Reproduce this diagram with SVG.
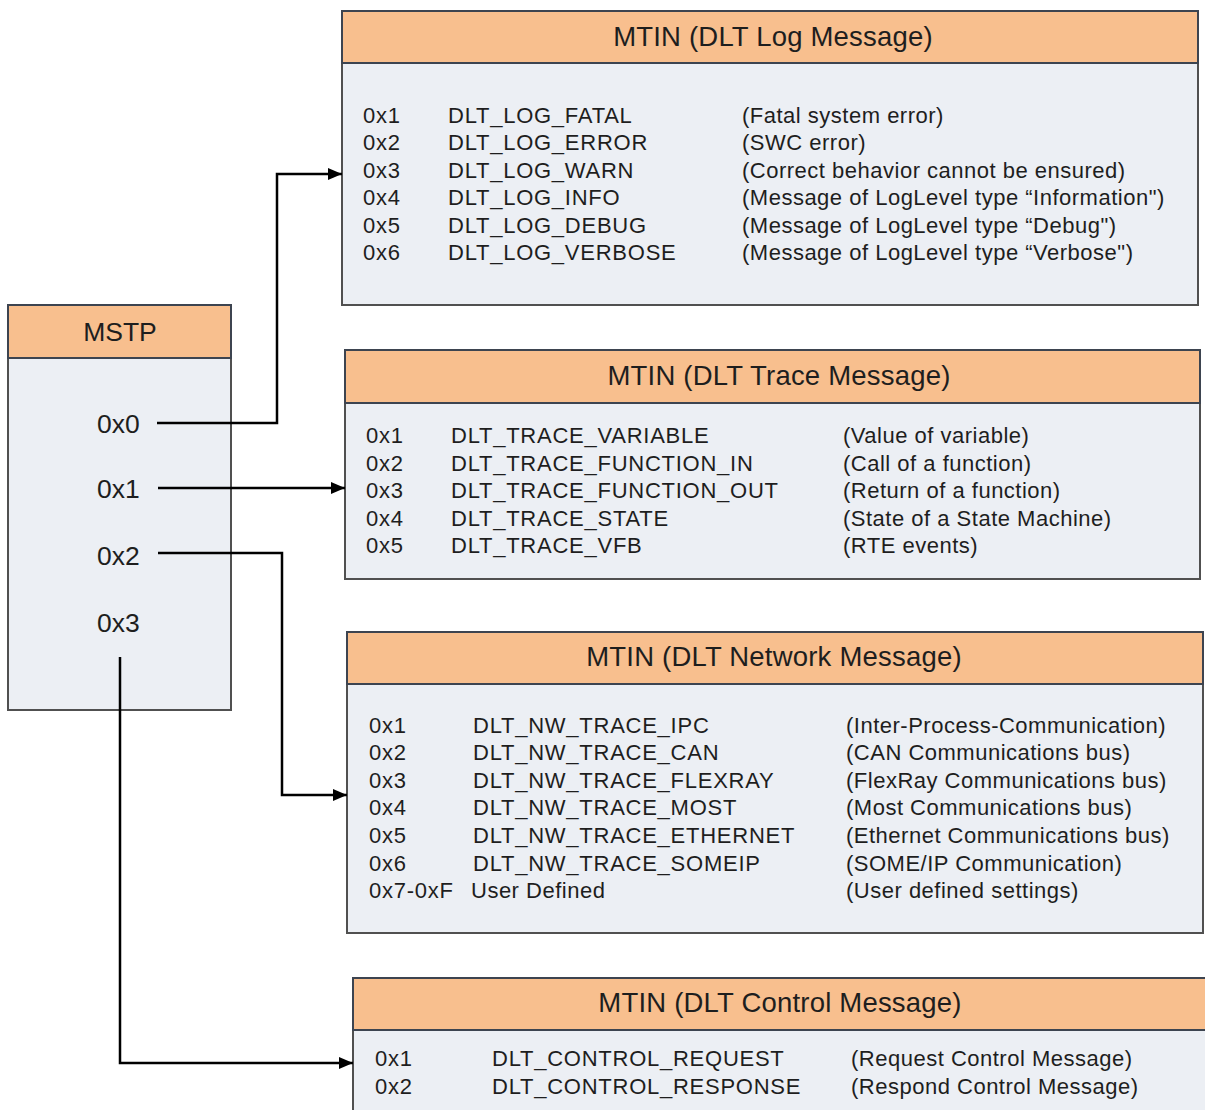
<svg xmlns="http://www.w3.org/2000/svg" width="1205" height="1110" viewBox="0 0 1205 1110">
<style>
.hdr{fill:#F8BF8E;stroke:#3d4450;stroke-width:2}
.body{fill:#ECEFF4;stroke:#505050;stroke-width:2}
.t{font-family:"Liberation Sans",Arial,sans-serif;fill:#1e1e1e}
.title{font-size:27.5px;letter-spacing:0.2px;text-anchor:middle}
.lbl{font-size:26.5px}
.row{font-size:22px;letter-spacing:0.75px}
.row .d{letter-spacing:0.5px}
.conn{fill:none;stroke:#000;stroke-width:2.5}
</style>
<defs>
<marker id="ah" viewBox="0 0 14 12" refX="14" refY="6" markerWidth="14" markerHeight="12" markerUnits="userSpaceOnUse" orient="auto">
<path d="M0,0 L14,6 L0,12 z" fill="#000"/>
</marker>
</defs>
<rect width="1205" height="1110" fill="#fff"/>

<g id="mstp">
<rect class="body" x="8" y="305" width="223" height="405"/>
<rect class="hdr" x="8" y="305" width="223" height="53"/>
<text class="t lbl" x="120" y="341" text-anchor="middle">MSTP</text>
<text class="t lbl" x="97" y="433">0x0</text>
<text class="t lbl" x="97" y="498">0x1</text>
<text class="t lbl" x="97" y="565">0x2</text>
<text class="t lbl" x="97" y="632">0x3</text>
</g>

<g id="log">
<rect class="body" x="342" y="11" width="856" height="294"/>
<rect class="hdr" x="342" y="11" width="856" height="52"/>
<text class="t title" x="773" y="46">MTIN (DLT Log Message)</text>
<g class="t row">
<text x="363" y="123">0x1</text><text x="448" y="123">DLT_LOG_FATAL</text><text class="d" x="742" y="123">(Fatal system error)</text>
<text x="363" y="150.4">0x2</text><text x="448" y="150.4">DLT_LOG_ERROR</text><text class="d" x="742" y="150.4">(SWC error)</text>
<text x="363" y="177.8">0x3</text><text x="448" y="177.8">DLT_LOG_WARN</text><text class="d" x="742" y="177.8">(Correct behavior cannot be ensured)</text>
<text x="363" y="205.2">0x4</text><text x="448" y="205.2">DLT_LOG_INFO</text><text class="d" x="742" y="205.2">(Message of LogLevel type “Information")</text>
<text x="363" y="232.6">0x5</text><text x="448" y="232.6">DLT_LOG_DEBUG</text><text class="d" x="742" y="232.6">(Message of LogLevel type “Debug")</text>
<text x="363" y="260">0x6</text><text x="448" y="260">DLT_LOG_VERBOSE</text><text class="d" x="742" y="260">(Message of LogLevel type “Verbose")</text>
</g>
</g>

<g id="trace">
<rect class="body" x="345" y="350" width="855" height="229"/>
<rect class="hdr" x="345" y="350" width="855" height="53"/>
<text class="t title" x="779" y="385">MTIN (DLT Trace Message)</text>
<g class="t row">
<text x="366" y="443">0x1</text><text x="451" y="443">DLT_TRACE_VARIABLE</text><text class="d" x="843" y="443">(Value of variable)</text>
<text x="366" y="470.6">0x2</text><text x="451" y="470.6">DLT_TRACE_FUNCTION_IN</text><text class="d" x="843" y="470.6">(Call of a function)</text>
<text x="366" y="498.2">0x3</text><text x="451" y="498.2">DLT_TRACE_FUNCTION_OUT</text><text class="d" x="843" y="498.2">(Return of a function)</text>
<text x="366" y="525.8">0x4</text><text x="451" y="525.8">DLT_TRACE_STATE</text><text class="d" x="843" y="525.8">(State of a State Machine)</text>
<text x="366" y="553.4">0x5</text><text x="451" y="553.4">DLT_TRACE_VFB</text><text class="d" x="843" y="553.4">(RTE events)</text>
</g>
</g>

<g id="network">
<rect class="body" x="347" y="632" width="856" height="301"/>
<rect class="hdr" x="347" y="632" width="856" height="52"/>
<text class="t title" x="774" y="666">MTIN (DLT Network Message)</text>
<g class="t row">
<text x="369" y="732.5">0x1</text><text x="473" y="732.5">DLT_NW_TRACE_IPC</text><text class="d" x="846" y="732.5">(Inter-Process-Communication)</text>
<text x="369" y="760.1">0x2</text><text x="473" y="760.1">DLT_NW_TRACE_CAN</text><text class="d" x="846" y="760.1">(CAN Communications bus)</text>
<text x="369" y="787.7">0x3</text><text x="473" y="787.7">DLT_NW_TRACE_FLEXRAY</text><text class="d" x="846" y="787.7">(FlexRay Communications bus)</text>
<text x="369" y="815.3">0x4</text><text x="473" y="815.3">DLT_NW_TRACE_MOST</text><text class="d" x="846" y="815.3">(Most Communications bus)</text>
<text x="369" y="842.9">0x5</text><text x="473" y="842.9">DLT_NW_TRACE_ETHERNET</text><text class="d" x="846" y="842.9">(Ethernet Communications bus)</text>
<text x="369" y="870.5">0x6</text><text x="473" y="870.5">DLT_NW_TRACE_SOMEIP</text><text class="d" x="846" y="870.5">(SOME/IP Communication)</text>
<text x="369" y="898.1">0x7-0xF</text><text class="d" x="471" y="898.1">User Defined</text><text class="d" x="846" y="898.1">(User defined settings)</text>
</g>
</g>

<g id="control">
<rect class="body" x="353" y="978" width="856" height="150"/>
<rect class="hdr" x="353" y="978" width="856" height="52"/>
<text class="t title" x="780" y="1012">MTIN (DLT Control Message)</text>
<g class="t row">
<text x="375" y="1066">0x1</text><text x="492" y="1066">DLT_CONTROL_REQUEST</text><text class="d" x="851" y="1066">(Request Control Message)</text>
<text x="375" y="1094">0x2</text><text x="492" y="1094">DLT_CONTROL_RESPONSE</text><text class="d" x="851" y="1094">(Respond Control Message)</text>
</g>
</g>

<g id="connectors">
<polyline class="conn" points="157,423 277,423 277,174 342,174" marker-end="url(#ah)"/>
<polyline class="conn" points="158,488 345,488" marker-end="url(#ah)"/>
<polyline class="conn" points="158,553 282,553 282,795 347,795" marker-end="url(#ah)"/>
<polyline class="conn" points="120,657 120,1063 353,1063" marker-end="url(#ah)"/>
</g>
</svg>
